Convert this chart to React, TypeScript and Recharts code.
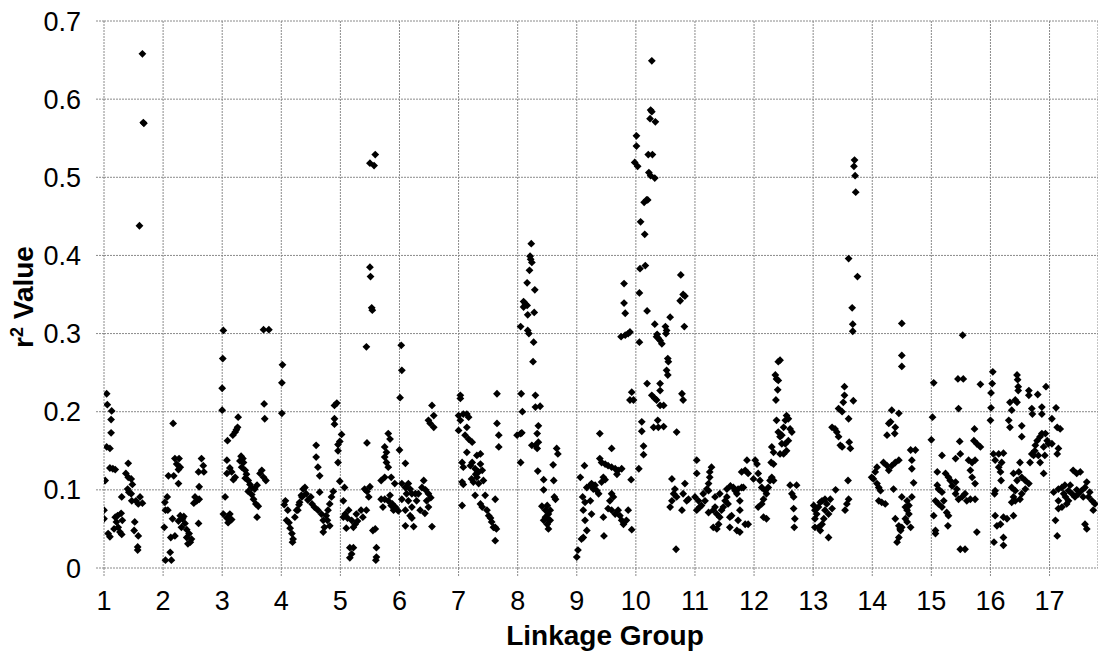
import React from 'react';
import { ScatterChart, Scatter, XAxis, YAxis, CartesianGrid } from 'recharts';

type Pt = [number, number];

const lg1: Pt[] = [
  [1.045,0.223],[1.056,0.209],[1.13,0.201],[1.12,0.19],[1.12,0.173],[1.045,0.155],[1.1,0.153],
  [1.1,0.128],[1.19,0.126],[1.15,0.127],[1.02,0.112],[1.41,0.134],[1.37,0.121],[1.41,0.116],
  [1.46,0.114],[1.48,0.107],[1.4,0.101],[1.42,0.097],[1.46,0.095],[1.3,0.091],[1.47,0.086],
  [1.54,0.086],[1.61,0.091],[1.58,0.082],[1.65,0.083],[1.0,0.074],[1.0,0.063],[1.19,0.065],
  [1.23,0.067],[1.29,0.07],[1.31,0.061],[1.24,0.052],[1.17,0.05],[1.27,0.046],[1.07,0.044],
  [1.1,0.04],[1.3,0.043],[1.21,0.059],[1.52,0.059],[1.51,0.048],[1.58,0.041],[1.57,0.027],
  [1.57,0.023],[1.6,0.438],[1.65,0.658],[1.665,0.57],[1.675,0.569],
];

const lg2: Pt[] = [
  [2.17,0.185],[2.2,0.14],[2.27,0.14],[2.23,0.133],[2.29,0.129],[2.26,0.126],[2.09,0.118],
  [2.18,0.118],[2.26,0.108],[2.65,0.14],[2.68,0.131],[2.6,0.123],[2.69,0.123],[2.61,0.104],
  [2.54,0.091],[2.57,0.086],[2.52,0.083],[2.61,0.088],[2.07,0.091],[2.03,0.084],[2.04,0.074],
  [2.08,0.074],[2.02,0.052],[2.16,0.063],[2.29,0.067],[2.33,0.063],[2.35,0.066],[2.26,0.06],
  [2.37,0.057],[2.31,0.052],[2.4,0.049],[2.44,0.044],[2.4,0.039],[2.48,0.037],[2.46,0.033],
  [2.42,0.031],[2.2,0.041],[2.13,0.039],[2.12,0.02],[2.04,0.01],[2.14,0.01],[2.6,0.057],
];

const lg3: Pt[] = [
  [3.02,0.304],[3.01,0.268],[3.0,0.23],[3.0,0.202],[3.27,0.193],[3.26,0.18],[3.22,0.174],
  [3.18,0.17],[3.24,0.177],[3.09,0.163],[3.08,0.138],[3.13,0.128],[3.16,0.123],[3.08,0.121],
  [3.22,0.116],[3.19,0.113],[3.32,0.143],[3.36,0.135],[3.33,0.129],[3.39,0.125],[3.41,0.12],
  [3.39,0.115],[3.44,0.112],[3.47,0.107],[3.5,0.103],[3.55,0.101],[3.59,0.106],[3.44,0.098],
  [3.5,0.094],[3.53,0.088],[3.57,0.082],[3.61,0.079],[3.67,0.125],[3.7,0.116],[3.74,0.112],
  [3.64,0.121],[3.05,0.091],[3.02,0.069],[3.08,0.064],[3.13,0.069],[3.1,0.058],[3.16,0.062],
  [3.59,0.065],[3.71,0.21],[3.72,0.191],[3.7,0.305],[3.79,0.305],[3.35,0.14],[3.3,0.137],
];

const lg4: Pt[] = [
  [4.02,0.26],[4.01,0.237],[4.01,0.198],[4.07,0.086],[4.05,0.081],[4.11,0.074],[4.09,0.061],
  [4.15,0.051],[4.18,0.044],[4.2,0.037],[4.19,0.033],[4.26,0.074],[4.3,0.081],[4.34,0.093],
  [4.37,0.101],[4.23,0.065],[4.13,0.058],[4.28,0.074],[4.31,0.084],[4.35,0.091],[4.4,0.103],
  [4.42,0.095],[4.45,0.087],[4.5,0.091],[4.52,0.082],[4.56,0.078],[4.62,0.074],[4.68,0.069],
  [4.71,0.061],[4.73,0.052],[4.71,0.046],[4.76,0.067],[4.79,0.074],[4.82,0.082],[4.85,0.091],
  [4.88,0.098],[4.82,0.054],[4.78,0.061],[4.59,0.157],[4.59,0.142],[4.62,0.129],[4.65,0.118],
  [4.65,0.097],[4.9,0.208],[4.94,0.211],[4.9,0.191],[4.9,0.184],[5.02,0.171],[4.99,0.162],
  [4.96,0.158],[4.96,0.15],[4.96,0.135],[4.99,0.111],
];

const lg5: Pt[] = [
  [5.07,0.103],[5.05,0.086],[5.08,0.069],[5.14,0.074],[5.19,0.061],[5.22,0.052],[5.25,0.056],
  [5.29,0.06],[5.27,0.069],[5.35,0.074],[5.38,0.065],[5.44,0.074],[5.12,0.064],[5.05,0.065],
  [5.1,0.051],[5.16,0.026],[5.19,0.018],[5.16,0.013],[5.22,0.026],[5.44,0.283],[5.53,0.333],
  [5.54,0.33],[5.45,0.16],[5.41,0.101],[5.45,0.098],[5.48,0.091],[5.5,0.104],[5.55,0.048],
  [5.59,0.05],[5.61,0.026],[5.61,0.014],[5.6,0.01],[5.69,0.088],[5.72,0.078],[5.75,0.088],
  [5.81,0.086],[5.84,0.093],[5.86,0.08],[5.9,0.074],[5.69,0.112],[5.75,0.116],[5.81,0.172],
  [5.84,0.165],[5.75,0.155],[5.78,0.148],[5.75,0.142],[5.78,0.135],[5.81,0.129],[5.86,0.116],
  [5.92,0.108],[5.5,0.518],[5.59,0.529],[5.57,0.515],[5.5,0.385],[5.51,0.373],
];

const lg6: Pt[] = [
  [6.03,0.285],[6.04,0.253],[6.01,0.218],[6.0,0.151],[6.1,0.134],[6.04,0.108],[6.1,0.103],
  [6.15,0.108],[6.18,0.101],[6.21,0.095],[6.12,0.095],[6.04,0.088],[6.15,0.086],[6.21,0.078],
  [6.29,0.086],[6.32,0.095],[6.38,0.103],[6.41,0.112],[6.35,0.074],[6.46,0.086],[6.49,0.078],
  [6.49,0.095],[6.44,0.1],[6.27,0.095],[6.1,0.074],[6.18,0.067],[6.21,0.064],[6.1,0.054],
  [6.24,0.053],[6.55,0.053],[5.93,0.078],[5.98,0.073],[5.88,0.082],[6.55,0.208],[6.58,0.195],
  [6.49,0.189],[6.52,0.185],[6.58,0.18],[6.53,0.09],[6.43,0.07],
];

const lg7: Pt[] = [
  [7.03,0.221],[7.03,0.217],[7.0,0.195],[7.03,0.189],[7.08,0.197],[7.14,0.197],[7.17,0.193],
  [7.14,0.18],[7.0,0.176],[7.11,0.17],[7.17,0.165],[7.23,0.161],[7.14,0.148],[7.06,0.135],
  [7.08,0.129],[7.23,0.135],[7.31,0.144],[7.37,0.146],[7.2,0.131],[7.28,0.127],[7.37,0.133],
  [7.34,0.123],[7.4,0.125],[7.31,0.116],[7.25,0.11],[7.34,0.108],[7.42,0.112],[7.29,0.12],
  [7.22,0.114],[7.06,0.11],[7.08,0.107],[7.06,0.08],[7.28,0.093],[7.37,0.082],[7.45,0.093],
  [7.4,0.078],[7.48,0.074],[7.51,0.067],[7.54,0.064],[7.56,0.059],[7.59,0.052],[7.62,0.035],
  [7.65,0.223],[7.65,0.185],[7.68,0.17],[7.68,0.155],[7.62,0.088],[7.62,0.052],[7.64,0.05],
];

const lg8: Pt[] = [
  [8.16,0.365],[8.29,0.356],[8.1,0.341],[8.13,0.338],[8.16,0.336],[8.1,0.334],[8.17,0.324],
  [8.28,0.327],[8.05,0.309],[8.17,0.304],[8.19,0.3],[8.27,0.289],[8.26,0.264],[8.06,0.223],
  [8.3,0.221],[8.08,0.2],[8.3,0.206],[8.38,0.207],[7.99,0.17],[8.05,0.172],[8.07,0.173],
  [8.35,0.182],[8.33,0.172],[8.35,0.161],[8.3,0.157],[8.24,0.157],[8.33,0.153],[8.05,0.135],
  [8.66,0.153],[8.68,0.146],[8.34,0.124],[8.44,0.113],[8.44,0.1],[8.6,0.132],[8.61,0.112],
  [8.62,0.091],[8.64,0.088],[8.41,0.079],[8.5,0.08],[8.55,0.074],[8.52,0.069],[8.47,0.065],
  [8.44,0.061],[8.5,0.056],[8.52,0.05],[8.55,0.061],[8.47,0.074],[8.51,0.063],[8.23,0.415],
  [8.21,0.399],[8.22,0.395],[8.24,0.391],[8.2,0.381],
];

const lg9: Pt[] = [
  [9.39,0.172],[9.59,0.153],[9.13,0.131],[9.39,0.14],[9.42,0.135],[9.48,0.133],[9.53,0.131],
  [9.59,0.129],[9.65,0.127],[9.7,0.125],[9.76,0.127],[9.68,0.12],[9.06,0.116],[9.17,0.103],
  [9.23,0.106],[9.28,0.101],[9.34,0.099],[9.37,0.095],[9.31,0.106],[9.42,0.11],[9.48,0.113],
  [9.45,0.116],[9.59,0.095],[9.62,0.091],[9.56,0.086],[9.25,0.108],[9.92,0.113],[9.1,0.091],
  [9.11,0.074],[9.14,0.084],[9.23,0.086],[9.25,0.069],[9.14,0.061],[9.17,0.048],[9.11,0.039],
  [9.08,0.037],[9.45,0.065],[9.53,0.076],[9.65,0.069],[9.7,0.074],[9.76,0.061],[9.79,0.056],
  [9.84,0.061],[9.87,0.074],[9.93,0.049],[9.59,0.074],[9.73,0.067],[9.46,0.041],[9.02,0.023],
  [9.0,0.014],[9.75,0.296],[9.82,0.298],[9.87,0.3],[9.9,0.302],[9.82,0.326],[9.8,0.339],
  [9.8,0.364],[9.93,0.225],[9.96,0.215],[9.9,0.215],
];

const lg10: Pt[] = [
  [10.05,0.127],[10.13,0.156],[10.13,0.145],[10.1,0.187],[10.1,0.175],[10.37,0.189],[10.3,0.18],
  [10.38,0.18],[10.47,0.181],[10.69,0.174],[10.61,0.114],[10.66,0.101],[10.64,0.095],[10.69,0.091],
  [10.61,0.086],[10.58,0.078],[10.78,0.074],[10.83,0.108],[10.86,0.086],[10.89,0.088],[10.8,0.095],
  [10.68,0.024],[10.19,0.236],[10.27,0.221],[10.32,0.217],[10.35,0.215],[10.41,0.208],[10.47,0.208],
  [10.41,0.236],[10.41,0.227],[10.78,0.223],[10.8,0.215],[10.06,0.289],[10.32,0.312],[10.19,0.329],
  [10.06,0.352],[10.36,0.299],[10.38,0.294],[10.41,0.291],[10.44,0.287],[10.35,0.296],[10.5,0.309],
  [10.52,0.304],[10.51,0.3],[10.58,0.321],[10.54,0.268],[10.55,0.264],[10.52,0.253],[10.54,0.247],
  [10.75,0.342],[10.8,0.35],[10.83,0.348],[10.82,0.309],[10.27,0.649],[10.25,0.586],[10.27,0.584],
  [10.24,0.575],[10.33,0.571],[10.01,0.553],[10.01,0.54],[9.98,0.519],[10.03,0.514],[10.21,0.529],
  [10.28,0.529],[10.22,0.506],[10.25,0.502],[10.32,0.499],[10.14,0.468],[10.18,0.471],[10.2,0.471],
  [10.08,0.443],[10.15,0.427],[10.07,0.383],[10.16,0.387],[10.76,0.375],
];

const lg11: Pt[] = [
  [11.03,0.138],[11.03,0.121],[11.0,0.091],[11.06,0.086],[11.08,0.078],[11.03,0.074],[11.11,0.08],
  [11.17,0.086],[11.14,0.095],[11.2,0.101],[11.23,0.108],[11.25,0.116],[11.25,0.123],[11.28,0.129],
  [11.23,0.099],[11.23,0.071],[11.31,0.074],[11.34,0.078],[11.37,0.069],[11.31,0.052],[11.37,0.05],
  [11.4,0.056],[11.42,0.065],[11.45,0.074],[11.48,0.078],[11.42,0.095],[11.51,0.086],[11.54,0.091],
  [11.56,0.082],[11.59,0.065],[11.62,0.067],[11.59,0.052],[11.65,0.103],[11.68,0.099],[11.71,0.095],
  [11.73,0.101],[11.79,0.103],[11.76,0.086],[11.76,0.074],[11.73,0.061],[11.71,0.048],[11.76,0.046],
  [11.85,0.056],[11.9,0.056],[11.82,0.103],[11.79,0.123],[11.88,0.138],[11.85,0.125],[11.9,0.121],
  [11.54,0.101],[11.6,0.105],[11.34,0.091],
];

const lg12: Pt[] = [
  [12.02,0.138],[12.05,0.133],[11.99,0.114],[12.07,0.121],[12.1,0.112],[12.13,0.103],[12.19,0.099],
  [12.16,0.088],[12.13,0.082],[12.07,0.078],[12.21,0.095],[12.24,0.103],[12.3,0.116],[12.33,0.112],
  [12.27,0.112],[12.16,0.065],[12.21,0.063],[12.33,0.133],[12.29,0.135],[12.44,0.266],[12.41,0.264],
  [12.36,0.247],[12.38,0.242],[12.41,0.24],[12.4,0.228],[12.37,0.215],[12.55,0.195],[12.53,0.189],
  [12.58,0.191],[12.5,0.18],[12.61,0.178],[12.64,0.174],[12.38,0.189],[12.41,0.174],[12.44,0.168],
  [12.47,0.159],[12.53,0.159],[12.55,0.15],[12.5,0.146],[12.44,0.146],[12.3,0.155],[12.33,0.148],
  [12.58,0.163],[12.47,0.17],[12.61,0.106],[12.72,0.106],[12.64,0.095],[12.67,0.091],[12.67,0.076],
  [12.69,0.063],[12.68,0.052],
];

const lg13: Pt[] = [
  [13.01,0.08],[13.03,0.074],[13.06,0.069],[13.09,0.078],[13.12,0.084],[13.15,0.086],[13.2,0.088],
  [13.23,0.082],[13.29,0.088],[13.32,0.076],[13.26,0.069],[13.18,0.063],[13.15,0.056],[13.09,0.052],
  [13.03,0.052],[13.12,0.048],[13.26,0.039],[13.03,0.063],[13.2,0.074],[13.38,0.1],[13.32,0.18],
  [13.37,0.178],[13.4,0.174],[13.43,0.168],[13.46,0.157],[13.49,0.155],[13.43,0.204],[13.49,0.2],
  [13.51,0.212],[13.53,0.221],[13.53,0.232],[13.6,0.191],[13.61,0.161],[13.63,0.153],[13.68,0.214],
  [13.59,0.112],[13.6,0.088],[13.57,0.082],[13.54,0.074],[13.66,0.333],[13.67,0.312],[13.67,0.303],
  [13.7,0.522],[13.69,0.514],[13.71,0.502],[13.72,0.481],[13.6,0.396],[13.75,0.373],
];

const lg14: Pt[] = [
  [13.99,0.116],[14.02,0.114],[14.05,0.123],[14.08,0.129],[14.08,0.108],[14.11,0.103],[14.14,0.099],
  [14.11,0.086],[14.16,0.084],[14.22,0.082],[14.19,0.135],[14.25,0.131],[14.28,0.125],[14.33,0.131],
  [14.39,0.135],[14.45,0.138],[14.25,0.17],[14.28,0.185],[14.33,0.202],[14.31,0.187],[14.39,0.18],
  [14.38,0.172],[14.45,0.198],[14.36,0.101],[14.5,0.313],[14.5,0.272],[14.5,0.258],[14.39,0.063],
  [14.47,0.05],[14.45,0.039],[14.42,0.033],[14.5,0.091],[14.56,0.078],[14.65,0.151],[14.73,0.151],
  [14.67,0.138],[14.67,0.127],[14.7,0.109],[14.59,0.086],[14.62,0.08],[14.59,0.074],[14.62,0.069],
  [14.56,0.063],[14.59,0.059],[14.5,0.052],[14.48,0.048],[14.45,0.054],[14.65,0.052],[14.67,0.091],
];

const lg15: Pt[] = [
  [15.04,0.237],[15.02,0.193],[15.0,0.164],[15.45,0.242],[15.54,0.242],[15.53,0.298],[15.46,0.204],
  [15.83,0.235],[15.73,0.178],[15.72,0.163],[15.77,0.159],[15.83,0.155],[15.48,0.162],[15.49,0.146],
  [15.41,0.14],[15.18,0.144],[15.1,0.123],[15.24,0.121],[15.29,0.116],[15.32,0.112],[15.41,0.11],
  [15.43,0.101],[15.1,0.106],[15.12,0.101],[15.18,0.097],[15.07,0.086],[15.12,0.082],[15.18,0.078],
  [15.26,0.071],[15.29,0.067],[15.21,0.086],[15.04,0.067],[15.07,0.048],[15.07,0.044],[15.28,0.054],
  [15.35,0.105],[15.41,0.095],[15.46,0.088],[15.52,0.091],[15.57,0.095],[15.6,0.086],[15.66,0.088],
  [15.74,0.088],[15.63,0.138],[15.69,0.135],[15.74,0.138],[15.66,0.125],[15.69,0.116],[15.74,0.108],
  [15.77,0.046],[15.49,0.024],[15.57,0.024],
];

const lg16: Pt[] = [
  [16.04,0.251],[16.03,0.236],[16.01,0.224],[16.01,0.205],[16.0,0.189],[16.05,0.146],[16.14,0.146],
  [16.22,0.147],[16.08,0.138],[16.14,0.129],[16.19,0.135],[16.17,0.123],[16.18,0.112],[16.07,0.095],
  [16.08,0.099],[16.08,0.067],[16.11,0.054],[16.17,0.056],[16.22,0.065],[16.28,0.063],[16.39,0.067],
  [16.06,0.033],[16.22,0.039],[16.22,0.029],[16.33,0.18],[16.36,0.202],[16.33,0.212],[16.42,0.215],
  [16.45,0.212],[16.31,0.189],[16.45,0.247],[16.46,0.241],[16.47,0.232],[16.47,0.227],[16.65,0.227],
  [16.65,0.221],[16.8,0.222],[16.94,0.232],[16.7,0.204],[16.71,0.197],[16.87,0.206],[16.87,0.197],
  [16.53,0.182],[16.53,0.168],[16.39,0.121],[16.48,0.123],[16.36,0.103],[16.42,0.099],[16.45,0.112],
  [16.53,0.116],[16.59,0.112],[16.65,0.108],[16.59,0.101],[16.53,0.095],[16.5,0.088],[16.42,0.086],
  [16.36,0.084],[16.39,0.091],[16.67,0.135],[16.7,0.146],[16.76,0.157],[16.79,0.163],[16.84,0.168],
  [16.87,0.172],[16.93,0.172],[16.96,0.163],[16.9,0.155],[16.98,0.159],[16.81,0.144],[16.73,0.144],
  [16.84,0.135],[16.92,0.144],[16.9,0.121],[16.5,0.135],[16.75,0.15],
];

const lg17: Pt[] = [
  [17.04,0.191],[17.11,0.205],[17.13,0.18],[17.18,0.178],[17.15,0.153],[17.13,0.146],[17.04,0.159],
  [17.07,0.097],[17.15,0.101],[17.21,0.103],[17.26,0.106],[17.32,0.099],[17.38,0.095],[17.43,0.091],
  [17.49,0.095],[17.54,0.099],[17.6,0.103],[17.63,0.11],[17.66,0.091],[17.72,0.086],[17.77,0.082],
  [17.74,0.074],[17.15,0.086],[17.21,0.078],[17.29,0.082],[17.4,0.125],[17.46,0.121],[17.52,0.123],
  [17.1,0.061],[17.13,0.041],[17.6,0.056],[17.63,0.05],[17.15,0.076],[17.32,0.086],[17.24,0.095],
  [17.35,0.106],[17.46,0.1],[17.57,0.091],[17.27,0.091],[17.68,0.097],
];

const xTicks = [1, 2, 3, 4, 5, 6, 7, 8, 9, 10, 11, 12, 13, 14, 15, 16, 17];
const yTicks = [0, 0.1, 0.2, 0.3, 0.4, 0.5, 0.6, 0.7];

const groups = [lg1, lg2, lg3, lg4, lg5, lg6, lg7, lg8, lg9, lg10, lg11, lg12, lg13, lg14, lg15, lg16, lg17];
const data = groups.flat().map(([x, y]) => ({ x, y }));

const FONT = '"Liberation Sans", Arial, sans-serif';
const GRID = '#8a8a8a';

const Diamond = (props: any) => {
  const { cx, cy } = props;
  if (cx == null || cy == null) return null;
  const r = 3.9;
  return <path d={`M${cx},${cy - r}L${cx + r},${cy}L${cx},${cy + r}L${cx - r},${cy}Z`} fill="#000" />;
};

const XLabel = (props: any) => {
  const vb = props.viewBox || { x: 104, width: 994 };
  return (
    <text x={vb.x + vb.width / 2 + 4} y={645} textAnchor="middle" fontFamily={FONT} fontSize={28} fontWeight="bold" fill="#000">
      Linkage Group
    </text>
  );
};

const YLabel = () => (
  <text x={33} y={297} transform="rotate(-90, 33, 297)" textAnchor="middle" fontFamily={FONT} fontSize={28} fontWeight="bold" fill="#000">
    <tspan>r</tspan>
    <tspan fontSize={18} dy={-10}>2</tspan>
    <tspan dy={10}> Value</tspan>
  </text>
);

export default function App() {
  return (
    <div style={{ position: 'absolute', left: 0, top: 0, width: 1098, height: 655, background: '#fff', overflow: 'hidden' }}>
      <ScatterChart width={1098} height={655} margin={{ top: 21, right: 0, bottom: 0, left: 0 }}>
        <CartesianGrid stroke={GRID} strokeDasharray="2 1" />
        <XAxis
          type="number"
          dataKey="x"
          domain={[1, 17.82]}
          ticks={xTicks}
          allowDataOverflow
          height={87}
          axisLine={false}
          tickSize={8}
          tickMargin={15}
          tickLine={{ stroke: GRID, strokeDasharray: '2 1' }}
          tick={{ fill: '#000', fontSize: 27, fontFamily: FONT }}
          label={{ content: (p: any) => <XLabel {...p} /> }}
        />
        <YAxis
          type="number"
          dataKey="y"
          domain={[0, 0.7]}
          ticks={yTicks}
          allowDataOverflow
          width={104}
          axisLine={false}
          tickSize={8}
          tickMargin={15}
          tickLine={{ stroke: GRID, strokeDasharray: '2 1' }}
          tick={{ fill: '#000', fontSize: 27, fontFamily: FONT }}
          label={{ content: () => <YLabel /> }}
        />
        <Scatter data={data} isAnimationActive={false} shape={(p: any) => <Diamond {...p} />} />
      </ScatterChart>
    </div>
  );
}
